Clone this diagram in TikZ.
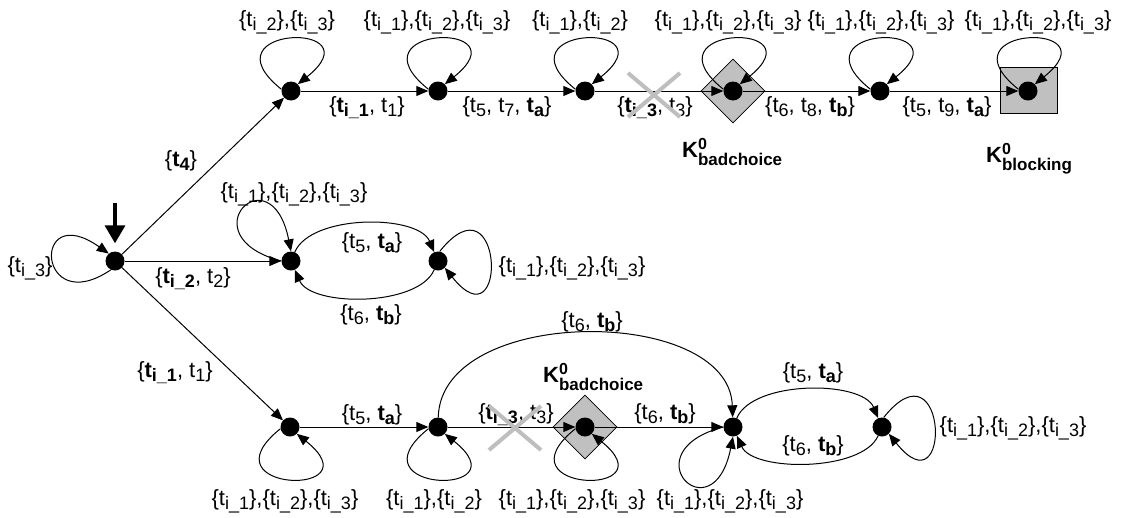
\documentclass[tikz,border=0pt]{standalone}
\usepackage{fontspec}
\setmainfont{Liberation Sans}
\usetikzlibrary{arrows.meta,shapes.geometric,shapes.misc}

\definecolor{boxgray}{RGB}{192,192,192}
\definecolor{crossgray}{RGB}{190,190,190}

% t with a lowered subscript, t_{i_n}, plain t_n, the three-set loop label, K^0 state names
\newcommand\Tsub[2]{#1\raisebox{-4pt}{\fontsize{18}{18}\selectfont#2}}
\newcommand\Ti[1]{\Tsub{t}{i\_#1}}
\newcommand\Tn[1]{\Tsub{t}{#1}}
\newcommand\Tall{\{\Ti1\},\{\Ti2\},\{\Ti3\}}
\newcommand\Kst[1]{\textbf{K\rlap{\raisebox{7.5pt}{\fontsize{16}{16}\selectfont 0}}\raisebox{-8pt}{\fontsize{17}{17}\selectfont #1}}}

\begin{document}
\begin{tikzpicture}[x=1pt,y=1pt,
  dot/.style={circle, fill=black, inner sep=0pt, minimum size=19pt},
  edge/.style={line width=1pt, -{Triangle[length=12pt,width=10pt]}},
  initarrow/.style={line width=3.5pt, -{Triangle[length=18pt,width=20pt]}, shorten >=8pt},
  badbox/.style={diamond, aspect=1, draw, line width=0.8pt, fill=boxgray, inner sep=0pt,
                 minimum width=64pt, minimum height=64pt},
  blockbox/.style={rectangle, draw, line width=0.8pt, fill=boxgray, inner sep=0pt,
                   minimum width=57pt, minimum height=46pt},
  lbl/.style={anchor=base, inner sep=0pt, font=\fontsize{22}{26}\selectfont},
  klbl/.style={anchor=base west, inner sep=0pt, font=\fontsize{22}{26}\selectfont},
  xmark/.style={cross out, draw=crossgray, line width=4pt, inner sep=0pt,
                minimum width=48pt, minimum height=40pt}
]
\useasboundingbox (0,0) rectangle (1123,-517);

% shaded frames of the special states
\node[badbox] (D1) at (733,-91) {};
\node[badbox] (D2) at (585,-427) {};
\node[blockbox] (Q) at (1028.5,-90) {};

% states
\node[dot] (S) at (115,-261) {};
\node[dot] (A1) at (291,-91) {};
\node[dot] (A2) at (438,-91) {};
\node[dot] (A3) at (585,-91) {};
\node[dot] (A4) at (733,-91) {};
\node[dot] (A5) at (880,-91) {};
\node[dot] (A6) at (1028,-91) {};
\node[dot] (M1) at (291,-261) {};
\node[dot] (M2) at (438,-261) {};
\node[dot] (B1) at (290,-427) {};
\node[dot] (B2) at (438,-427) {};
\node[dot] (B3) at (585,-427) {};
\node[dot] (B4) at (733,-427) {};
\node[dot] (B5) at (882,-427) {};

% initial state marker
\coordinate (init) at (115,-203);
\draw[initarrow] (init) -- (S);

% straight transitions
\draw[edge] (S) -- (A1);
\draw[edge] (A1) -- (A2);
\draw[edge] (A2) -- (A3);
\draw[edge] (A3) -- (A4);
\draw[edge] (A4) -- (A5);
\draw[edge] (A5) -- (A6);
\draw[edge] (S) -- (M1);
\draw[edge] (S) -- (B1);
\draw[edge] (B1) -- (B2);
\draw[edge] (B2) -- (B3);
\draw[edge] (B3) -- (B4);

% curved transitions
\draw[edge] (M1) .. controls (311,-214) and (418,-214) .. (M2);
\draw[edge] (M2) .. controls (418,-307) and (311,-307) .. (M1);
\draw[edge] (B4) .. controls (753,-380) and (862,-380) .. (B5);
\draw[edge] (B5) .. controls (862,-472) and (753,-472) .. (B4);
\draw[edge] (B2) .. controls (441,-305) and (729,-305) .. (B4);

% self loops
\draw[edge] (S.245) .. controls +(-74,-50) and +(-78,55) .. (S.130);
\draw[edge] (A1.170) .. controls +(-80,64) and +(80,64) .. (A1.45);
\draw[edge] (A2.170) .. controls +(-80,64) and +(80,64) .. (A2.45);
\draw[edge] (A3.170) .. controls +(-80,64) and +(80,64) .. (A3.45);
\draw[edge] (A4.170) .. controls +(-80,64) and +(80,64) .. (A4.45);
\draw[edge] (A5.170) .. controls +(-80,64) and +(80,64) .. (A5.45);
\draw[edge] (A6.170) .. controls +(-80,64) and +(80,64) .. (A6.45);
\draw[edge] (M1.180) .. controls +(-95,25) and +(-20,100) .. (M1.90);
\draw[edge] (M2.80) .. controls +(64,80) and +(64,-80) .. (M2.-45);
\draw[edge] (B1.190) .. controls +(-80,-64) and +(80,-64) .. (B1.-45);
\draw[edge] (B2.190) .. controls +(-80,-64) and +(80,-64) .. (B2.-45);
\draw[edge] (B3.190) .. controls +(-80,-64) and +(80,-64) .. (B3.-45);
\draw[edge] (B4.180) .. controls +(-95,-25) and +(-20,-100) .. (B4.-90);
\draw[edge] (B5.80) .. controls +(64,80) and +(64,-80) .. (B5.-45);

% labels, upper branch
\node[lbl] (lA1) at (287,-26.5) {\{\Ti2\},\{\Ti3\}};
\node[lbl] (lA2) at (437,-26.5) {\Tall};
\node[lbl] (lA3) at (580,-26.5) {\{\Ti1\},\{\Ti2\}};
\node[lbl] (lA4) at (728,-26.5) {\Tall};
\node[lbl] (lA5) at (881,-26.5) {\Tall};
\node[lbl] (lA6) at (1038,-26.5) {\Tall};
\node[lbl] (eSA) at (181,-166) {\{\textbf{\Tn4}\}};
\node[lbl] (eA12) at (367,-112) {\{\textbf{\Ti1}, \Tn1\}};
\node[lbl] (eA23) at (507,-112) {\{\Tn5, \Tn7, \textbf{\Tn a}\}};
\node[lbl] (eA34) at (655,-112) {\{\textbf{\Ti3}, \Tn3\}};
\node[lbl] (eA45) at (810,-112) {\{\Tn6, \Tn8, \textbf{\Tn b}\}};
\node[lbl] (eA56) at (947,-112) {\{\Tn5, \Tn9, \textbf{\Tn a}\}};
\node[klbl] (kA4) at (682,-157) {\Kst{badchoice}};
\node[klbl] (kA6) at (986,-162) {\Kst{blocking}};

% labels, middle branch
\node[lbl] (lS) at (30,-272) {\{\Ti3\}};
\node[lbl] (eSM) at (193,-283) {\{\textbf{\Ti2}, \Tn2\}};
\node[lbl] (lM1) at (294,-198) {\Tall};
\node[lbl] (eM12) at (372,-248) {\{\Tn5, \textbf{\Tn a}\}};
\node[lbl] (eM21) at (371,-320) {\{\Tn6, \textbf{\Tn b}\}};
\node[lbl] (lM2) at (572,-272) {\Tall};

% labels, lower branch
\node[lbl] (eSB) at (175,-377) {\{\textbf{\Ti1}, \Tn1\}};
\node[lbl] (lB1) at (285,-505) {\Tall};
\node[lbl] (eB12) at (372,-420) {\{\Tn5, \textbf{\Tn a}\}};
\node[lbl] (lB2) at (434,-505) {\{\Ti1\},\{\Ti2\}};
\node[lbl] (eB23) at (516,-419) {\{\textbf{\Ti3}, \Tn3\}};
\node[lbl] (lB3) at (572,-505) {\Tall};
\node[lbl] (eB34) at (665,-419) {\{\Tn6, \textbf{\Tn b}\}};
\node[lbl] (eB24) at (592,-327) {\{\Tn6, \textbf{\Tn b}\}};
\node[klbl] (kB3) at (543,-382) {\Kst{badchoice}};
\node[lbl] (lB4) at (730,-505) {\Tall};
\node[lbl] (eB45) at (813,-378) {\{\Tn5, \textbf{\Tn a}\}};
\node[lbl] (eB54) at (813,-451) {\{\Tn6, \textbf{\Tn b}\}};
\node[lbl] (lB5) at (1013,-432) {\Tall};

% struck-out transitions
\node[xmark] (xA) at (654,-95) {};
\node[xmark] (xB) at (515,-428) {};
\end{tikzpicture}
\end{document}
